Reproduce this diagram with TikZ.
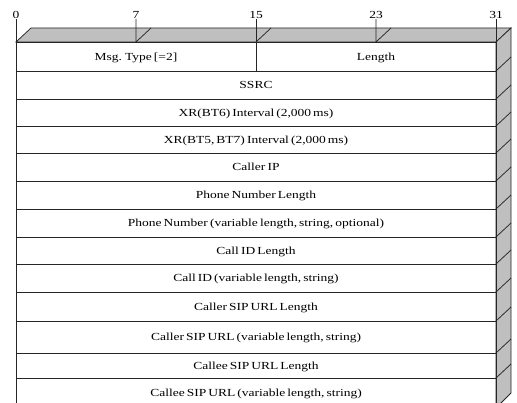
\documentclass[tikz,border=0pt]{standalone}
\usepackage{fontspec}
\setmainfont{Liberation Serif}[FakeStretch=1.25,WordSpace=0.6]
\begin{document}
\begin{tikzpicture}[x=1pt,y=-1pt,
  ln/.style={draw=black!85, line width=0.75pt},
  face/.style={ln, fill=black!25, line join=miter},
  field/.style={ln, inner sep=0pt, outer sep=0pt, font=\fontsize{10.8}{12}\selectfont, text height=10pt, text depth=2pt, anchor=north west},
  full/.style={field, minimum width=480pt},
  half/.style={field, minimum width=240pt},
  bitlbl/.style={font=\fontsize{10.8}{12}\selectfont, inner sep=0pt, outer sep=0pt, anchor=base}]
\useasboundingbox (0,0) rectangle (517,403);
\begin{scope}
\clip (0,0) rectangle (517,403);
% top and right faces
\path[face] (16,42) -- (31,28) -- (511,28) -- (496,42) -- cycle;
\path[face] (496,42) -- (511,28) -- (511,393) -- (496,408) -- cycle;
% fields
\node[half, minimum height=29pt] (r1a) at (16,42) {Msg. Type [=2]};
\node[half, minimum height=29pt] (r1b) at (256,42) {Length};
\node[full, minimum height=28pt] (r2) at (16,71) {SSRC};
\node[full, minimum height=27pt] (r3) at (16,99) {XR(BT6) Interval (2,000 ms)};
\node[full, minimum height=27pt] (r4) at (16,126) {XR(BT5, BT7) Interval (2,000 ms)};
\node[full, minimum height=28pt] (r5) at (16,153) {Caller IP};
\node[full, minimum height=28pt] (r6) at (16,181) {Phone Number Length};
\node[full, minimum height=28pt] (r7) at (16,209) {Phone Number (variable length, string, optional)};
\node[full, minimum height=27pt] (r8) at (16,237) {Call ID Length};
\node[full, minimum height=28pt] (r9) at (16,264) {Call ID (variable length, string)};
\node[full, minimum height=29pt] (r10) at (16,292) {Caller SIP URL Length};
\node[full, minimum height=32pt] (r11) at (16,321) {Caller SIP URL (variable length, string)};
\node[full, minimum height=25pt] (r12) at (16,353) {Callee SIP URL Length};
\node[full, minimum height=29pt] (r13) at (16,378) {Callee SIP URL (variable length, string)};
% right face diagonals
\foreach \r in {r2,r3,r4,r5,r6,r7,r8,r9,r10,r11,r12,r13}
  \draw[ln] (\r.north east) -- ++(15,-14);
% bit labels and ticks
\node[bitlbl] (t0) at (16,19) {0};
\node[bitlbl] (t7) at (136,19) {7};
\node[bitlbl] (t15) at (256,19) {15};
\node[bitlbl] (t23) at (376,19) {23};
\node[bitlbl] (t31) at (496,19) {31};
\coordinate (k7) at (136,42);
\coordinate (k23) at (376,42);
\coordinate (kb) at (16,410);
\draw[ln] (t0.south) -- (kb);
\draw[ln] (t7.south) -- (k7) -- ++(15,-14);
\draw[ln] (t15.south) -- (r1a.south east);
\draw[ln] (r1a.north east) -- ++(15,-14);
\draw[ln] (t23.south) -- (k23) -- ++(15,-14);
\draw[ln] (t31.south) -- (r1b.north east);
\end{scope}
\end{tikzpicture}
\end{document}
